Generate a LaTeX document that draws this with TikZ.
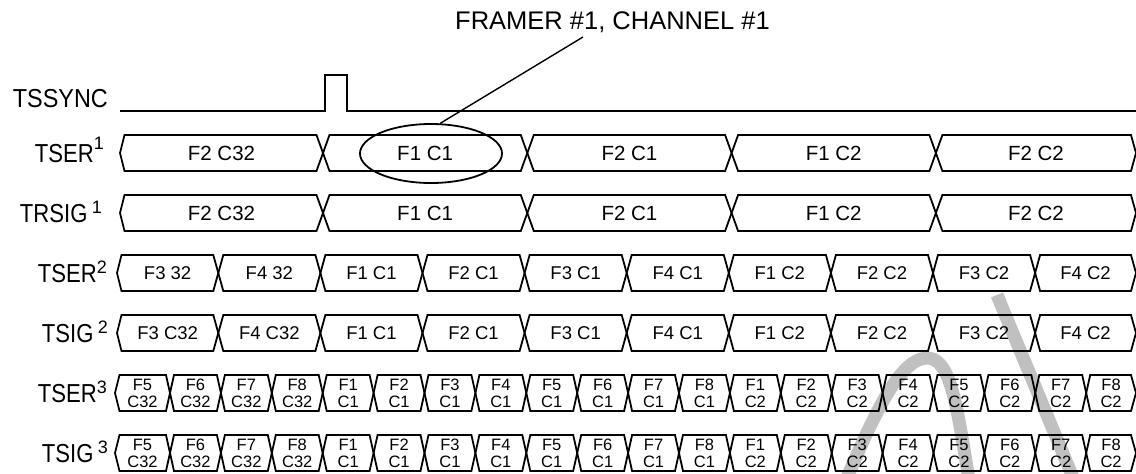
\documentclass[tikz,border=0pt]{standalone}
\usepackage{fontspec}
\usepackage{graphicx}
\setmainfont{Liberation Sans}
\usetikzlibrary{shapes.geometric}
\definecolor{wmgray}{RGB}{192,192,192}
\newcommand\sups[2][8.5pt]{\raisebox{#1}{\fontsize{18}{18}\selectfont #2}}
% #1 prefix, #2 yc, #3 start tip x, #4 first crossing, #5 pitch, #6 last index, #7 crossing half width, #8 labels
\newcommand\busrow[8]{%
  \foreach \t [count=\k from 0] in {#8} {%
    \pgfmathsetmacro\xa{\k==0 ? #3 : #4+(\k-1)*#5}%
    \pgfmathsetmacro\wa{\k==0 ? 4.5 : #7}%
    \pgfmathsetmacro\xb{\k==#6 ? 1136 : #4+\k*#5}%
    \pgfmathsetmacro\wb{\k==#6 ? 5 : #7}%
    \pgfmathsetmacro\xm{(\xa+\xb)/2}%
    \draw[bus] (\xa,#2) -- (\xa+\wa,#2-18) -- (\xb-\wb,#2-18) -- (\xb,#2) -- (\xb-\wb,#2+18) -- (\xa+\wa,#2+18) -- cycle;
    \node[segtext] (#1-\k) at (\xm,#2) {\t};
  }%
}
\begin{document}
\begin{tikzpicture}[x=1pt,y=-1pt,
  bus/.style={draw=black,line width=1.8pt,line join=miter},
  sig/.style={draw=black,line width=1.8pt},
  leader/.style={draw=black,line width=1.4pt},
  lab/.style={anchor=base east,inner sep=0pt,font=\fontsize{26}{26}\selectfont},
  wm/.style={draw=wmgray,line width=13pt},
  segtext/.style={inner sep=0pt}]
\useasboundingbox (0,0) rectangle (1136,474);
% watermark
\draw[wm] (997,295) -- (1074,480);
\draw[wm] (846,480) .. controls (872,420) and (898,360) .. (926,358) .. controls (950,357) and (956,400) .. (969,480);
% title and callout
\node[anchor=base,inner sep=0pt,font=\fontsize{25.5}{25.5}\selectfont] (title) at (612.5,29.3) {FRAMER \#1, CHANNEL \#1};
\coordinate (lead) at (583,37);
% TSSYNC
\node[lab] (lsync) at (108,107) {\scalebox{0.9}[1]{TSSYNC}};
\draw[sig] (120,110.7) -- (325,110.7) -- (325,75) -- (347,75) -- (347,110.7) -- (1136,110.7);
% labels
\node[lab] (lser1) at (104,162) {\scalebox{0.85}[1]{TSER}\sups[13pt]{1}};
\node[lab] (lrsig1) at (102,222) {\scalebox{0.85}[1]{TRSIG}\,\sups{1}};
\node[lab] (lser2) at (107,282) {\scalebox{0.85}[1]{TSER}\sups{2}};
\node[lab] (lsig2) at (108,342) {\scalebox{0.85}[1]{TSIG}\,\sups{2}};
\node[lab] (lser3) at (107,402) {\scalebox{0.85}[1]{TSER}\sups{3}};
\node[lab] (lsig3) at (108,462) {\scalebox{0.85}[1]{TSIG}\,\sups{3}};
% rows 1-2
\begin{scope}[segtext/.style={inner sep=0pt,font=\fontsize{20.5}{20.5}\selectfont}]
\busrow{ra}{153}{120}{323}{204.3}{4}{6.5}{F2 C32,F1 C1,F2 C1,F1 C2,F2 C2}
\busrow{rb}{213}{120}{323}{204.3}{4}{6.5}{F2 C32,F1 C1,F2 C1,F1 C2,F2 C2}
\end{scope}
% rows 3-4
\begin{scope}[segtext/.style={inner sep=0pt,font=\fontsize{18.5}{18.5}\selectfont}]
\busrow{rc}{273}{117}{218.3}{102.1}{9}{5}{F3 32,F4 32,F1 C1,F2 C1,F3 C1,F4 C1,F1 C2,F2 C2,F3 C2,F4 C2}
\busrow{rd}{333}{117}{218.3}{102.1}{9}{5}{F3 C32,F4 C32,F1 C1,F2 C1,F3 C1,F4 C1,F1 C2,F2 C2,F3 C2,F4 C2}
\end{scope}
% rows 5-6
\begin{scope}[segtext/.style={inner sep=0pt,align=center,font=\fontsize{16.5}{17}\selectfont}]
\busrow{re}{393}{115}{170}{50.9}{19}{4}{F5\\C32,F6\\C32,F7\\C32,F8\\C32,F1\\C1,F2\\C1,F3\\C1,F4\\C1,F5\\C1,F6\\C1,F7\\C1,F8\\C1,F1\\C2,F2\\C2,F3\\C2,F4\\C2,F5\\C2,F6\\C2,F7\\C2,F8\\C2}
\busrow{rf}{453}{115}{170}{50.9}{19}{4}{F5\\C32,F6\\C32,F7\\C32,F8\\C32,F1\\C1,F2\\C1,F3\\C1,F4\\C1,F5\\C1,F6\\C1,F7\\C1,F8\\C1,F1\\C2,F2\\C2,F3\\C2,F4\\C2,F5\\C2,F6\\C2,F7\\C2,F8\\C2}
\end{scope}
% ellipse callout
\node[draw=black,line width=1.8pt,ellipse,minimum width=142pt,minimum height=59pt,inner sep=0pt] (ell) at (431,153.5) {};
\draw[leader] (ell.73) -- (lead);
\end{tikzpicture}
\end{document}
